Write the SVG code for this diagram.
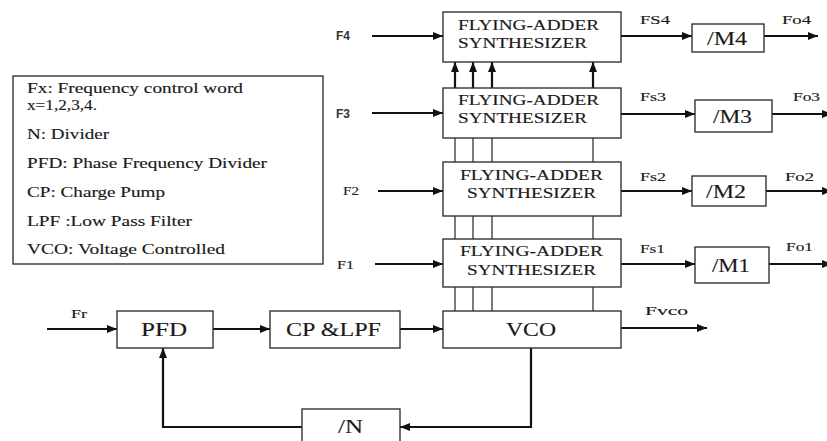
<svg xmlns="http://www.w3.org/2000/svg" width="827" height="441" viewBox="0 0 827 441">
<defs>
<marker id="ah" markerWidth="10" markerHeight="8" refX="10" refY="4" orient="auto" markerUnits="userSpaceOnUse">
<path d="M0,0 L10,4 L0,8 Z" fill="#111"/>
</marker>
<style>
.box{fill:#fff;stroke:#333;stroke-width:1.4}
.w{stroke:#111;stroke-width:2.2;fill:none}
.t{stroke:#333;stroke-width:1.3;fill:none}
.s{font-family:"Liberation Serif","Times New Roman",serif;fill:#1a1a1a;stroke:#1a1a1a;stroke-width:0.15}
.b{font-family:"Liberation Sans",Arial,sans-serif;font-weight:bold;fill:#333;font-size:12px}
.fa{font-size:14.5px}
.lg{font-size:15px}
.bl{font-size:19px}
.sm{font-size:13.5px}
</style>
</defs>
<g id="connectors">
<line class="t" x1="455" y1="312" x2="455" y2="88"/>
<line class="t" x1="473" y1="312" x2="473" y2="88"/>
<line class="t" x1="492" y1="312" x2="492" y2="88"/>
<line class="t" x1="593" y1="312" x2="593" y2="88"/>
<line class="w" x1="455" y1="88" x2="455" y2="62" marker-end="url(#ah)"/>
<line class="w" x1="473" y1="88" x2="473" y2="62" marker-end="url(#ah)"/>
<line class="w" x1="492" y1="88" x2="492" y2="62" marker-end="url(#ah)"/>
<line class="w" x1="593" y1="88" x2="593" y2="62" marker-end="url(#ah)"/>
<line class="w" x1="372" y1="36" x2="443" y2="36" marker-end="url(#ah)"/>
<line class="w" x1="372" y1="113" x2="443" y2="113" marker-end="url(#ah)"/>
<line class="w" x1="378" y1="191" x2="443" y2="191" marker-end="url(#ah)"/>
<line class="w" x1="375" y1="264" x2="443" y2="264" marker-end="url(#ah)"/>
<line class="w" x1="621" y1="36" x2="692" y2="36" marker-end="url(#ah)"/>
<line class="w" x1="764" y1="36" x2="818" y2="36" marker-end="url(#ah)"/>
<line class="w" x1="621" y1="114" x2="695" y2="114" marker-end="url(#ah)"/>
<line class="w" x1="772" y1="114" x2="832" y2="114" marker-end="url(#ah)"/>
<line class="w" x1="621" y1="191" x2="692" y2="191" marker-end="url(#ah)"/>
<line class="w" x1="766" y1="191" x2="832" y2="191" marker-end="url(#ah)"/>
<line class="w" x1="621" y1="264" x2="695" y2="264" marker-end="url(#ah)"/>
<line class="w" x1="769" y1="264" x2="832" y2="264" marker-end="url(#ah)"/>
<line class="w" x1="47" y1="329" x2="117" y2="329" marker-end="url(#ah)"/>
<line class="w" x1="213" y1="329" x2="270" y2="329" marker-end="url(#ah)"/>
<line class="w" x1="400" y1="329" x2="443" y2="329" marker-end="url(#ah)"/>
<line class="w" x1="621" y1="328" x2="707" y2="328" marker-end="url(#ah)"/>
<polyline class="w" points="531,348 531,427 400,427" marker-end="url(#ah)"/>
<polyline class="w" points="302,427 163,427 163,348" marker-end="url(#ah)"/>
</g>
<g id="legend">
<rect class="box" x="13" y="76" width="310" height="188"/>
<text class="s lg" x="27" y="93" textLength="216" lengthAdjust="spacingAndGlyphs">Fx: Frequency control word</text>
<text class="s lg" x="27" y="110" textLength="70" lengthAdjust="spacingAndGlyphs">x=1,2,3,4.</text>
<text class="s lg" x="27" y="139" textLength="82" lengthAdjust="spacingAndGlyphs">N: Divider</text>
<text class="s lg" x="27" y="168" textLength="240" lengthAdjust="spacingAndGlyphs">PFD: Phase Frequency Divider</text>
<text class="s lg" x="27" y="197" textLength="138" lengthAdjust="spacingAndGlyphs">CP: Charge Pump</text>
<text class="s lg" x="27" y="226" textLength="165" lengthAdjust="spacingAndGlyphs">LPF :Low Pass Filter</text>
<text class="s lg" x="27" y="254" textLength="198" lengthAdjust="spacingAndGlyphs">VCO: Voltage Controlled</text>
</g>
<g id="fas4">
<rect class="box" x="443" y="12" width="178" height="50"/>
<text class="s fa" x="458" y="30" textLength="141" lengthAdjust="spacingAndGlyphs">FLYING-ADDER</text>
<text class="s fa" x="458" y="48" textLength="129" lengthAdjust="spacingAndGlyphs">SYNTHESIZER</text>
</g>
<g id="fas3">
<rect class="box" x="443" y="88" width="178" height="50"/>
<text class="s fa" x="458" y="105" textLength="141" lengthAdjust="spacingAndGlyphs">FLYING-ADDER</text>
<text class="s fa" x="458" y="123" textLength="129" lengthAdjust="spacingAndGlyphs">SYNTHESIZER</text>
</g>
<g id="fas2">
<rect class="box" x="443" y="162" width="178" height="54"/>
<text class="s fa" x="460" y="180" textLength="143" lengthAdjust="spacingAndGlyphs">FLYING-ADDER</text>
<text class="s fa" x="467" y="198" textLength="129" lengthAdjust="spacingAndGlyphs">SYNTHESIZER</text>
</g>
<g id="fas1">
<rect class="box" x="443" y="239" width="178" height="48"/>
<text class="s fa" x="460" y="256" textLength="143" lengthAdjust="spacingAndGlyphs">FLYING-ADDER</text>
<text class="s fa" x="467" y="275" textLength="129" lengthAdjust="spacingAndGlyphs">SYNTHESIZER</text>
</g>
<g id="inputs">
<text class="b" x="336" y="40">F4</text>
<text class="b" x="336" y="118">F3</text>
<text class="s sm" x="343" y="195" textLength="16" lengthAdjust="spacingAndGlyphs">F2</text>
<text class="s sm" x="337" y="269" textLength="17" lengthAdjust="spacingAndGlyphs">F1</text>
</g>
<g id="m4">
<rect class="box" x="692" y="24" width="72" height="28"/>
<text class="s bl" x="707" y="45" textLength="40" lengthAdjust="spacingAndGlyphs">/M4</text>
</g>
<g id="m3">
<rect class="box" x="695" y="100" width="77" height="32"/>
<text class="s bl" x="713" y="123" textLength="39" lengthAdjust="spacingAndGlyphs">/M3</text>
</g>
<g id="m2">
<rect class="box" x="692" y="176" width="74" height="30"/>
<text class="s bl" x="706" y="198" textLength="40" lengthAdjust="spacingAndGlyphs">/M2</text>
</g>
<g id="m1">
<rect class="box" x="695" y="247" width="74" height="36"/>
<text class="s bl" x="712" y="272" textLength="38" lengthAdjust="spacingAndGlyphs">/M1</text>
</g>
<g id="outlabels">
<text class="s sm" x="640" y="24" textLength="30" lengthAdjust="spacingAndGlyphs">FS4</text>
<text class="s sm" x="782" y="24" textLength="29" lengthAdjust="spacingAndGlyphs">Fo4</text>
<text class="s sm" x="640" y="101" textLength="26" lengthAdjust="spacingAndGlyphs">Fs3</text>
<text class="s sm" x="793" y="101" textLength="27" lengthAdjust="spacingAndGlyphs">Fo3</text>
<text class="s sm" x="640" y="181" textLength="26" lengthAdjust="spacingAndGlyphs">Fs2</text>
<text class="s sm" x="785" y="181" textLength="29" lengthAdjust="spacingAndGlyphs">Fo2</text>
<text class="s sm" x="640" y="253" textLength="25" lengthAdjust="spacingAndGlyphs">Fs1</text>
<text class="s sm" x="786" y="251" textLength="27" lengthAdjust="spacingAndGlyphs">Fo1</text>
<text class="s sm" x="645" y="315" textLength="43" lengthAdjust="spacingAndGlyphs">Fvco</text>
<text class="s sm" x="71" y="318" textLength="16" lengthAdjust="spacingAndGlyphs">Fr</text>
</g>
<g id="pfd">
<rect class="box" x="117" y="311" width="96" height="37"/>
<text class="s bl" x="141" y="336" textLength="46" lengthAdjust="spacingAndGlyphs">PFD</text>
</g>
<g id="cplpf">
<rect class="box" x="270" y="311" width="130" height="37"/>
<text class="s bl" x="286" y="336" textLength="95" lengthAdjust="spacingAndGlyphs">CP &amp;LPF</text>
</g>
<g id="vco">
<rect class="box" x="443" y="311" width="178" height="37"/>
<text class="s bl" x="506" y="336" textLength="50" lengthAdjust="spacingAndGlyphs">VCO</text>
</g>
<g id="divn">
<rect class="box" x="302" y="409" width="98" height="40"/>
<text class="s bl" x="338" y="433" textLength="25" lengthAdjust="spacingAndGlyphs">/N</text>
</g>
</svg>
